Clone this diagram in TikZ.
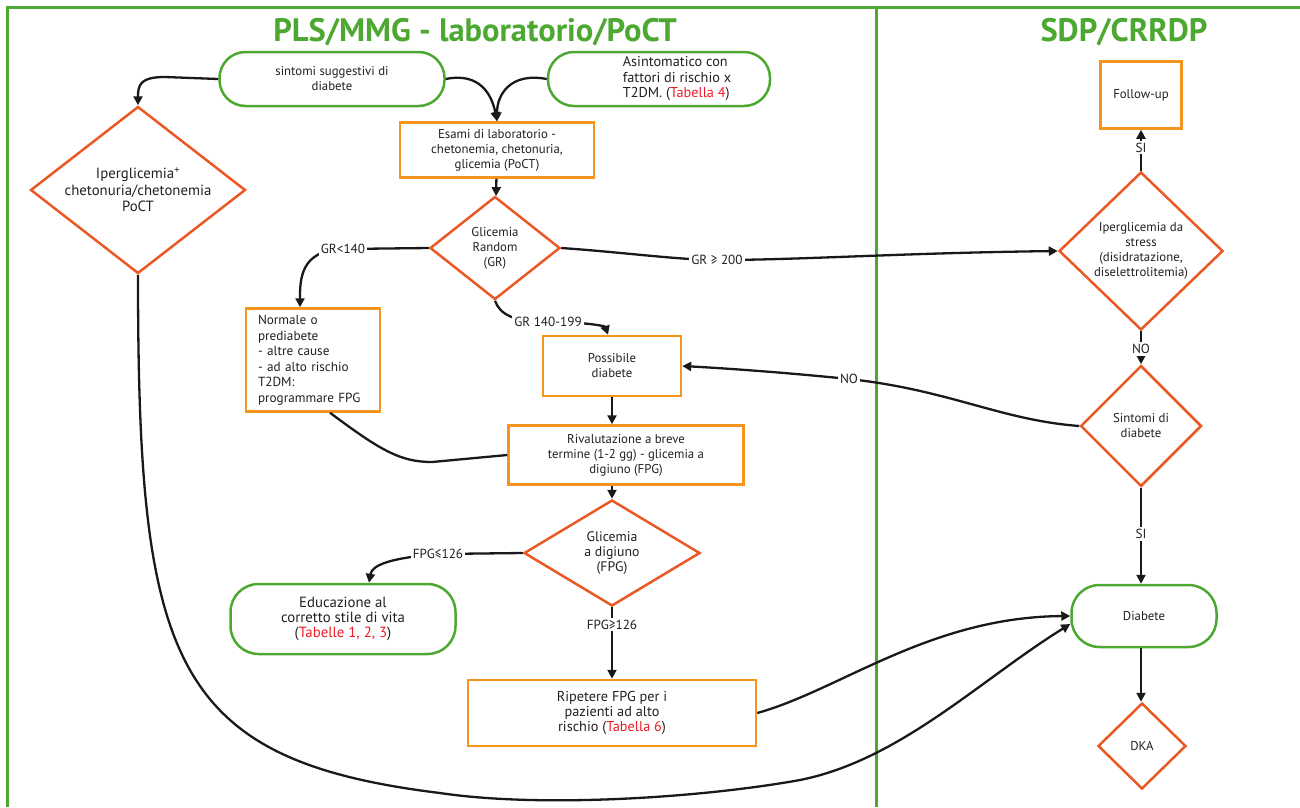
\documentclass[tikz,border=0pt]{standalone}
\usepackage{fontspec}
\setmainfont{PT Sans}
\usetikzlibrary{shapes.geometric,arrows.meta}
\definecolor{lanegreen}{RGB}{77,168,50}
\definecolor{boxorange}{RGB}{247,148,29}
\definecolor{testred}{RGB}{234,88,36}
\definecolor{refred}{RGB}{237,28,36}
\definecolor{inkgray}{RGB}{35,31,32}
\tikzstyle{lane}=[draw=lanegreen,line width=3pt]
\tikzstyle{title}=[text=lanegreen,font=\fontsize{32.5}{34}\bfseries]
\tikzstyle{start}=[rectangle,draw=lanegreen,line width=2.5pt,text=inkgray,align=center,inner sep=0pt,font=\fontsize{12.8}{15}\selectfont]
\tikzstyle{box}=[rectangle,draw=boxorange,line width=2.5pt,text=inkgray,align=center,inner sep=0pt,font=\fontsize{12.8}{15}\selectfont]
\tikzstyle{test}=[diamond,draw=testred,line width=2.5pt,text=inkgray,align=center,inner sep=0pt,aspect=1.2,font=\fontsize{12.8}{15}\selectfont]
\tikzstyle{flow}=[-{Triangle[length=9pt,width=9pt]},line width=2.3pt,draw=black!90]
\tikzstyle{lbl}=[fill=white,text=inkgray,inner sep=2pt,font=\fontsize{13.2}{14}\selectfont]
\newcommand{\tabref}[1]{\textcolor{refred}{#1}}

\begin{document}
\begin{tikzpicture}[x=1pt,y=-1pt]
    \useasboundingbox (0,0) rectangle (1300,807);
    \draw[lane] (7,807) -- (7,7) -- (1300,7);
    \draw[lane] (876,8) -- (876,807);
    \node[title] (tpls) at (475,32) {PLS/MMG - laboratorio/PoCT};
    \node[title] (tsdp) at (1124,32) {SDP/CRRDP};
    % PLS/MMG
    \node[start,rounded corners=26pt,minimum width=225pt,minimum height=54pt] (sintomi) at (332,79) {sintomi suggestivi di\\diabete};
    \node[start,rounded corners=26pt,minimum width=222pt,minimum height=54pt,font=\fontsize{14.3}{15.5}\selectfont] (asint) at (659,79) {\hspace*{36pt}\begin{tabular}{@{}l@{}}Asintomatico con\\fattori di rischio x\\T2DM. (\tabref{Tabella 4})\end{tabular}};
    \node[box,minimum width=194pt,minimum height=55pt] (esami) at (497,150) {Esami di laboratorio -\\chetonemia, chetonuria,\\glicemia (PoCT)};
    \node[test,minimum width=130pt,minimum height=103pt] (grand) at (495,248) {Glicemia\\Random\\(GR)};
    \node[test,minimum width=215pt,minimum height=167pt,font=\fontsize{14.8}{16.5}\selectfont] (iper) at (138,190) {Iperglicemia\textsuperscript{+}\\chetonuria/chetonemia\\PoCT};
    \node[box,minimum width=134pt,minimum height=103pt,text width=110pt,align=left,font=\fontsize{13.2}{15.5}\selectfont] (normale) at (313,360) {Normale o\\prediabete\\- altre cause\\- ad alto rischio\\T2DM:\\programmare FPG};
    \node[box,minimum width=138pt,minimum height=60pt] (possib) at (612,366) {Possibile\\diabete};
    \node[box,minimum width=235pt,minimum height=59pt] (rival) at (626,455) {Rivalutazione a breve\\termine (1-2 gg) - glicemia a\\digiuno (FPG)};
    \node[test,minimum width=176pt,minimum height=106pt,font=\fontsize{13.8}{15}\selectfont] (digiuno) at (612,553) {Glicemia\\a digiuno\\(FPG)};
    \node[start,rounded corners=28pt,minimum width=225pt,minimum height=70pt,font=\fontsize{14.8}{15}\selectfont] (educ) at (343,619) {Educazione al\\corretto stile di vita\\(\tabref{Tabelle 1, 2, 3})};
    \node[box,minimum width=288pt,minimum height=66pt,font=\fontsize{14.3}{15}\selectfont] (ripet) at (612,713) {Ripetere FPG per i\\pazienti ad alto\\rischio (\tabref{Tabella 6})};
    % SDP/CRRDP
    \node[box,minimum width=81pt,minimum height=67pt] (follow) at (1141,95) {Follow-up};
    \node[test,minimum width=164pt,minimum height=158pt,aspect=1] (stress) at (1141,251) {Iperglicemia da\\stress\\(disidratazione,\\diselettrolitemia)};
    \node[test,minimum width=121pt,minimum height=121pt,aspect=1] (sint) at (1141,426) {Sintomi di\\diabete};
    \node[start,rounded corners=28pt,minimum width=145pt,minimum height=62pt] (diab) at (1144,616) {Diabete};
    \node[test,minimum width=88pt,minimum height=86pt,aspect=1] (dka) at (1142,746) {DKA};

    \draw[flow] (sintomi.west) -- (165,77) .. controls (140,77) and (138,85) .. (iper.north);
    \draw[flow] (sintomi.east) .. controls (480,72) and (492,95) .. (esami.north);
    \draw[flow] (asint.west) .. controls (510,72) and (497,95) .. (esami.north);
    \draw[flow] (esami) -- (grand);
    \draw[flow] (grand.west) -- (343,249) node[lbl]{GR<140} .. controls (300,250) and (300,280) .. ([xshift=-13pt]normale.north);
    \draw[flow] (grand.east) .. controls (620,252) and (680,260) .. (717,260) node[lbl]{GR ≥ 200} .. controls (800,260) and (900,253) .. (stress.west);
    \draw[flow] (grand.south) .. controls (500,315) and (515,322) .. (548,322) node[lbl]{GR 140-199} .. controls (585,322) and (605,326) .. ([xshift=-4pt]possib.north);
    \draw[flow] (possib) -- (possib |- rival.north);
    \draw[flow,-] ([xshift=17pt]normale.south) .. controls (380,450) and (400,462) .. (432,462) -- (rival.west);
    \draw[flow] (rival.south -| digiuno) -- (digiuno);
    \draw[flow] (digiuno.west) -- (438,554) node[lbl]{FPG≤126} .. controls (390,558) and (372,565) .. ([xshift=26pt]educ.north);
    \draw[flow] (digiuno) -- node[lbl,pos=0.24]{FPG≥126} (ripet);
    \draw[flow] (ripet.east) .. controls (840,690) and (930,617) .. (diab.west);
    \draw[flow] (iper.south) .. controls (138,660) and (170,760) .. (440,793) .. controls (540,808) and (700,798) .. (800,780) .. controls (900,760) and (980,680) .. ([yshift=-8pt]diab.west);
    \draw[flow] (stress) -- node[lbl,pos=0.57]{SI} (follow);
    \draw[flow] (stress) -- node[lbl,pos=0.53]{NO} (sint);
    \draw[flow] (sint.west) .. controls (1000,420) and (950,390) .. (849,379) node[lbl]{NO} .. controls (780,372) and (720,368) .. (possib.east);
    \draw[flow] (sint) -- node[lbl,pos=0.48]{SI} (sint |- diab.north);
    \draw[flow] (diab.south -| sint) -- (sint |- dka.north);
\end{tikzpicture}
\end{document}
